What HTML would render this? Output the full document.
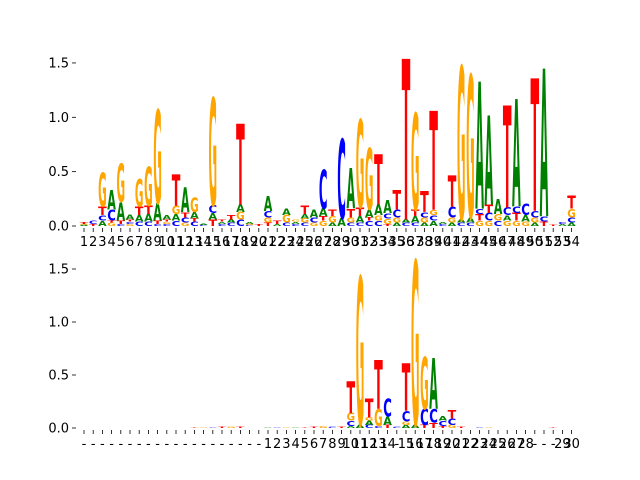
<!DOCTYPE html>
<html><head><meta charset="utf-8"><style>
html,body{margin:0;padding:0;background:#fff;}
svg{display:block;font-family:"DejaVu Sans","Liberation Sans",sans-serif;}
</style></head><body>
<svg id="chart" width="640" height="480" viewBox="0 0 640 480" xmlns="http://www.w3.org/2000/svg"></svg>
<script>
// Top logo: columns bottom->top [letter, height in bits]
const topColumns = [
 [["A",.01],["G",.01],["T",.015]],
 [["T",.02],["C",.03]],
 [["A",.05],["C",.05],["T",.08],["G",.31]],
 [["G",.03],["T",.02],["C",.1],["A",.18]],
 [["C",.02],["T",.03],["A",.17],["G",.35]],
 [["G",.02],["C",.02],["T",.02],["A",.05]],
 [["C",.04],["A",.06],["T",.08],["G",.25]],
 [["C",.04],["A",.07],["T",.08],["G",.36]],
 [["C",.02],["T",.03],["A",.16],["G",.86]],
 [["C",.02],["G",.02],["T",.02],["A",.04]],
 [["C",.05],["A",.06],["G",.08],["T",.29]],
 [["G",.03],["C",.05],["T",.05],["A",.23]],
 [["C",.04],["T",.03],["A",.06],["G",.13]],
 [["C",.01],["A",.01]],
 [["T",.06],["A",.06],["C",.07],["G",.99]],
 [["C",.02],["A",.02],["T",.02]],
 [["C",.03],["A",.03],["T",.04]],
 [["C",.06],["G",.07],["A",.07],["T",.74]],
 [["C",.01],["G",.01],["A",.02]],
 [["T",.02]],
 [["T",.03],["G",.05],["C",.06],["A",.14]],
 [["A",.02],["T",.03]],
 [["C",.03],["G",.07],["A",.06]],
 [["C",.02],["A",.02],["G",.02]],
 [["C",.03],["G",.04],["A",.04],["T",.08]],
 [["G",.03],["C",.05],["A",.07]],
 [["G",.05],["T",.04],["A",.07],["C",.36]],
 [["A",.03],["G",.06],["T",.06]],
 [["A",.07],["C",.73]],
 [["C",.03],["G",.05],["T",.08],["A",.37]],
 [["C",.03],["A",.06],["T",.08],["G",.81]],
 [["C",.05],["T",.03],["A",.07],["G",.56]],
 [["C",.05],["G",.05],["A",.1],["T",.46]],
 [["T",.02],["G",.05],["C",.05],["A",.12]],
 [["A",.03],["G",.05],["C",.07],["T",.18]],
 [["C",.03],["A",.03],["T",1.48]],
 [["C",.03],["A",.06],["T",.06],["G",.89]],
 [["A",.03],["G",.05],["C",.05],["T",.19]],
 [["A",.05],["C",.05],["G",.05],["T",.91]],
 [["C",.02],["A",.02]],
 [["A",.03],["G",.05],["C",.1],["T",.29]],
 [["C",.03],["A",.03],["G",1.41]],
 [["C",.03],["A",.05],["G",1.31]],
 [["G",.05],["T",.06],["C",.05],["A",1.17]],
 [["G",.05],["C",.07],["T",.08],["A",.82]],
 [["C",.05],["G",.06],["A",.14]],
 [["G",.05],["A",.05],["C",.07],["T",.94]],
 [["G",.05],["T",.07],["C",.06],["A",.99]],
 [["G",.04],["A",.06],["C",.11]],
 [["A",.03],["G",.05],["C",.06],["T",1.22]],
 [["T",.04],["C",.05],["A",1.36]],
 [["T",.01]],
 [["A",.02],["C",.02]],
 [["A",.03],["C",.05],["G",.08],["T",.12]]
];
const topLabels = Array.from({length:54},(_,i)=>String(i+1));

const bottomColumns = [
 [],[],[],[],[],[],[],[],[],[],[],[],
 [["T",.005]],[["G",.005]],[["C",.005]],[["T",.01]],[["G",.01]],[["T",.01]],[],[],
 [["A",.003]],[["C",.003]],[["G",.005]],[["A",.005]],[["T",.005]],
 [["T",.01]],[["G",.02]],[["C",.01]],[["T",.01]],
 [["A",.02],["C",.05],["G",.07],["T",.3]],
 [["A",.03],["G",1.4]],
 [["C",.03],["A",.04],["G",.03],["T",.18]],
 [["C",.02],["G",.16],["T",.46]],
 [["T",.03],["A",.08],["C",.17]],
 [["C",.01]],
 [["A",.03],["G",.03],["C",.1],["T",.45]],
 [["A",.03],["G",1.55]],
 [["T",.03],["C",.15],["G",.49]],
 [["T",.05],["C",.13],["A",.48]],
 [["T",.02],["C",.05],["A",.04]],
 [["G",.03],["C",.06],["T",.08]],
 [["T",.01]],[],[["C",.005]],[["G",.005]],[],[],[],[],[],[],[["T",.005]],[],[]
];
const bottomLabels = [].concat(
 Array(20).fill("-"),
 Array.from({length:14},(_,i)=>String(i+1)),
 ["-"],
 Array.from({length:14},(_,i)=>String(i+15)),
 ["-","-","-","29","30"]
);
const yTickValues = [0,0.5,1.0,1.5];
const yTickText = ["0.0","0.5","1.0","1.5"];

const colors = {A:"#008000",C:"#0000ff",G:"#ffa500",T:"#ff0000"};
const NS = "http://www.w3.org/2000/svg";
const svg = document.getElementById("chart");

function mk(tag, attrs, parent){
  const e = document.createElementNS(NS, tag);
  for (const k in attrs) e.setAttribute(k, attrs[k]);
  parent.appendChild(e);
  return e;
}

function drawPanel(cols, labels, zeroY, unitPx, name){
  const g = mk("g", {}, svg);
  
  
  const x0 = 84, step = 9.2, w = 8.6;
  const xScale = i => x0 + step*i;
  const yScale = v => zeroY - v*unitPx;
  // y ticks
  yTickValues.forEach((v,k)=>{
    const y = yScale(v);
    const t = mk("line", {x1:72, x2:76, y1:y, y2:y, stroke:"#000", "stroke-width":0.8}, g);
    
    
    const lb = mk("text", {x:69, y:y+4.5, "font-size":13, "text-anchor":"end", fill:"#000"}, g);
    lb.textContent = yTickText[k];
    
    
  });
  // columns
  cols.forEach((col,i)=>{
    const cx = xScale(i);
    let base = 0;
    col.forEach(([L,h])=>{
      const yb = yScale(base);
      const hp = h*unitPx;
      base += h;
      if (hp < 0.2) return;
      const fs = hp/0.73;
      const t = mk("text", {x:cx-w/2, y:yb, "font-size":fs.toFixed(3), "font-weight":"bold",
        fill:colors[L], textLength:w, lengthAdjust:"spacingAndGlyphs"}, g);
      t.textContent = L;
      
      
    });
    const tk = mk("line", {x1:cx, x2:cx, y1:zeroY+2, y2:zeroY+6, stroke:"#000", "stroke-width":0.8}, g);
    
    
    const lb = mk("text", {x:cx, y:zeroY+20, "font-size":13, "text-anchor":"middle", fill:"#000"}, g);
    lb.textContent = labels[i];
    
    
  });
}
drawPanel(topColumns, topLabels, 226, 108.7, "top-logo-panel");
drawPanel(bottomColumns, bottomLabels, 428, 106, "bottom-logo-panel");
</script>
</body></html>
